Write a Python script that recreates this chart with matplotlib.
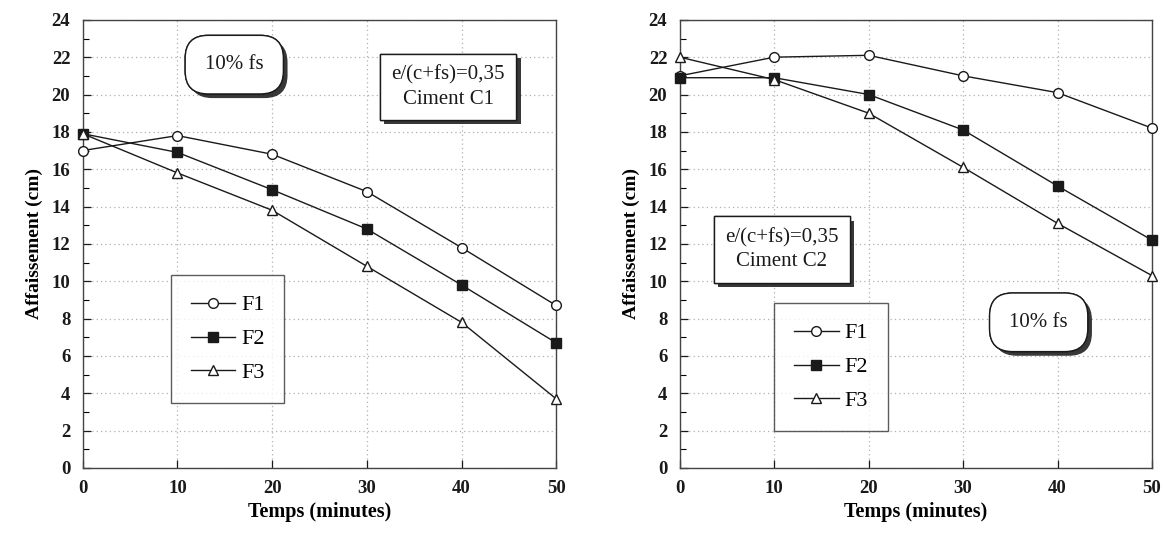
import matplotlib
matplotlib.use("Agg")
import matplotlib.pyplot as plt
import matplotlib.patheffects as pe
from matplotlib.ticker import MultipleLocator

plt.rcParams["font.family"] = ["Liberation Serif", "DejaVu Serif"]

temps = [0, 10, 20, 30, 40, 50]

# Ciment C1
c1_f1 = [17.0, 17.8, 16.8, 14.8, 11.8, 8.7]
c1_f2 = [17.9, 16.9, 14.9, 12.8, 9.8, 6.7]
c1_f3 = [17.9, 15.8, 13.8, 10.8, 7.8, 3.7]

# Ciment C2
c2_f1 = [21.0, 22.0, 22.1, 21.0, 20.1, 18.2]
c2_f2 = [20.9, 20.9, 20.0, 18.1, 15.1, 12.2]
c2_f3 = [22.0, 20.8, 19.0, 16.1, 13.1, 10.3]

series_names = ["F1", "F2", "F3"]
yticks = list(range(0, 25, 2))
xticks = [0, 10, 20, 30, 40, 50]

INK = "#1a1a1a"
styles = [dict(marker="o", mfc="white", mec=INK),
          dict(marker="s", mfc=INK, mec=INK),
          dict(marker="^", mfc="white", mec=INK)]

fig = plt.figure(figsize=(11.66, 5.36), dpi=100)
axL = fig.add_axes([0.071, 0.127, 0.406, 0.836])
axR = fig.add_axes([0.583, 0.127, 0.405, 0.836])


def setup(ax):
    ax.set_xlim(0, 50); ax.set_ylim(0, 24)
    ax.set_xticks(xticks); ax.set_yticks(yticks)
    ax.yaxis.set_minor_locator(MultipleLocator(1))
    ax.tick_params(direction="in", length=6, width=0.9, labelsize=13.5, colors=INK, pad=9)
    ax.tick_params(which="minor", direction="in", length=4, width=0.8)
    ax.grid(True, ls=(0, (1, 2.5)), color="#b0b0b0", lw=0.9)
    for s in ax.spines.values():
        s.set_color("#444444"); s.set_linewidth(1.0)
    for lab in ax.get_xticklabels() + ax.get_yticklabels():
        lab.set_fontweight("bold")
    ax.set_xlabel("Temps (minutes)", fontsize=14.5, fontweight="bold", labelpad=3)
    ax.set_ylabel("Affaissement (cm)", fontsize=14, fontweight="bold", labelpad=6)


def curves(ax, data):
    for ys, name, st in zip(data, series_names, styles):
        ax.plot(temps, ys, color=INK, lw=1.0, ms=7, mew=1.0, label=name,
                clip_on=False, zorder=3, **st)


def box(ax, x, y, txt, rounded):
    style = "round,pad=0.95,rounding_size=1.1" if rounded else "square,pad=0.55"
    t = ax.text(x, y, txt, ha="center", va="center", fontsize=15, color=INK,
                linespacing=1.35, zorder=5,
                bbox=dict(boxstyle=style, fc="white", ec=INK, lw=1.0))
    t.get_bbox_patch().set_path_effects(
        [pe.withSimplePatchShadow(offset=(3, -3), shadow_rgbFace="#222222", alpha=0.9), pe.Normal()])


def legend(ax, x, y):
    leg = ax.legend(loc="center", bbox_to_anchor=(x, y), bbox_transform=ax.transData,
                    frameon=True, fancybox=False, edgecolor="#333333", fontsize=16,
                    handlelength=2.0, handletextpad=0.25, labelspacing=0.6,
                    borderpad=0.9, borderaxespad=0, numpoints=1)
    leg.get_frame().set_linewidth(1.0)
    leg.set_zorder(6)


setup(axL)
curves(axL, [c1_f1, c1_f2, c1_f3])
box(axL, 16.0, 21.6, "10% fs", True)
box(axL, 38.6, 20.4, "e/(c+fs)=0,35\nCiment C1", False)
legend(axL, 15.3, 6.9)

setup(axR)
curves(axR, [c2_f1, c2_f2, c2_f3])
box(axR, 10.8, 11.7, "e/(c+fs)=0,35\nCiment C2", False)
box(axR, 38.0, 7.8, "10% fs", True)
legend(axR, 16.0, 5.4)

fig.savefig("out.png", dpi=100, facecolor="white")
